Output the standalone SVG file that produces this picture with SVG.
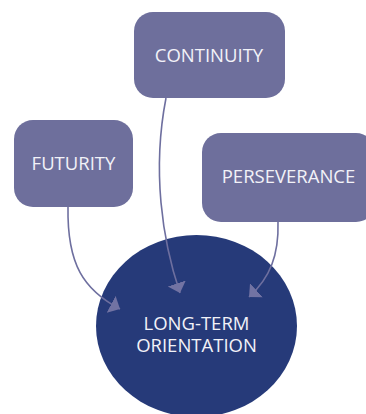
<svg xmlns="http://www.w3.org/2000/svg" width="366" height="414" viewBox="0 0 366 414">
<defs>
<style>
.box{fill:#6e6f9c;}
.hub{fill:#263a79;}
.lbl{font-family:"Open Sans","Noto Sans","DejaVu Sans",sans-serif;font-size:18.5px;fill:#f2f2f8;text-anchor:middle;}
.conn{fill:none;stroke:#6e6f9f;stroke-width:1.6;}
</style>
<marker id="arr" markerUnits="userSpaceOnUse" markerWidth="12" markerHeight="20" refX="10" refY="9.5" orient="auto" viewBox="0 0 12 20">
<path d="M0,0 L10,9.5 L0,19 z" fill="#7273a3"/>
</marker>
</defs>
<rect width="366" height="414" fill="#ffffff"/>
<g id="node-continuity">
<rect class="box" x="134" y="12" width="151" height="86" rx="19"/>
<text class="lbl" x="209" y="61.5">CONTINUITY</text>
</g>
<g id="node-futurity">
<rect class="box" x="14" y="120" width="119" height="87" rx="19"/>
<text class="lbl" x="73.5" y="169.5">FUTURITY</text>
</g>
<g id="node-perseverance">
<rect class="box" x="202" y="133" width="173" height="89" rx="19"/>
<text class="lbl" x="288.5" y="183">PERSEVERANCE</text>
</g>
<g id="node-long-term">
<ellipse class="hub" cx="196.5" cy="326" rx="100.5" ry="91"/>
<text class="lbl" x="196.5" y="330"><tspan x="196.5" y="330">LONG-TERM</tspan><tspan x="196.5" y="351.5">ORIENTATION</tspan></text>
</g>
<g id="connectors">
<path class="conn" d="M68,207 C67,265 84,290 120,309" marker-end="url(#arr)"/>
<path class="conn" d="M166,98 C152,170 162,240 180,293" marker-end="url(#arr)"/>
<path class="conn" d="M278,222 C279,255 270,278 249,297" marker-end="url(#arr)"/>
</g>
</svg>
